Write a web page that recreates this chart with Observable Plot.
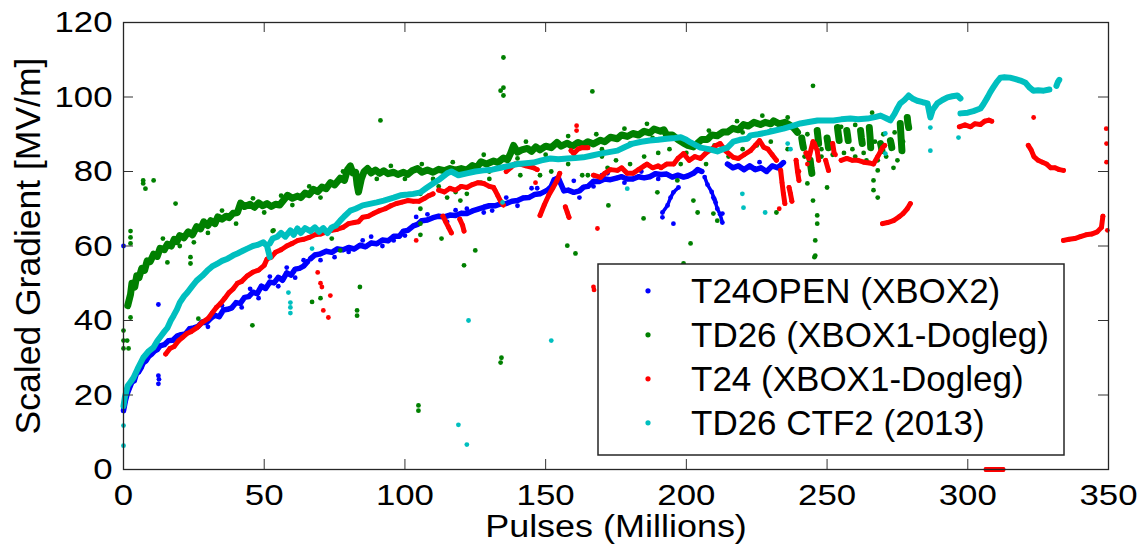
<!DOCTYPE html>
<html>
<head>
<meta charset="utf-8">
<script src="https://cdn.jsdelivr.net/npm/d3@7"></script>
<script src="https://cdn.jsdelivr.net/npm/@observablehq/plot@0.6"></script>
<style>
  html, body { margin: 0; padding: 0; background: #fff; }
  #chart { width: 1140px; height: 556px; }
</style>
</head>
<body>
<div id="chart"></div>
<script>
// Axis ticks and labels
const xTicks = [0, 50, 100, 150, 200, 250, 300, 350];
const yTicks = [0, 20, 40, 60, 80, 100, 120];
const xLabel = "Pulses (Millions)";
const yLabel = "Scaled Gradient [MV/m]";

// Series names and colours (legend order = draw order)
const seriesNames = ["T24OPEN (XBOX2)", "TD26 (XBOX1-Dogleg)", "T24 (XBOX1-Dogleg)", "TD26 CTF2 (2013)"];
const seriesColors = ["#0000ff", "#008000", "#ff0000", "#00bfbf"];

// T24OPEN (XBOX2): conditioning history, [pulses (M), gradient (MV/m)] per run
const t24openRuns = [
  [[0,15.8],[0.7,18.5],[1.4,20.5],[2.2,22],[3,23.5],[3.8,23.8],[4.6,25.8],[5.4,26.2],[6.2,27.2],[7,28.6],[8,29.2],[9,30.4],[10,31],[11,31.8],[12,32.2],[13,33.2],[14.5,33.5],[16,34.6],[17.5,34.7],[19,35.8],[20.5,36.2],[22,36.4],[23.5,37.8],[25,38],[26.5,38.4],[28,39.6],[29.5,39.4],[31,40.6],[32.5,41.4],[34,41],[35.5,42.8],[37,43],[38.5,43.4],[40,44.8],[41.5,44.6],[43,46.2],[44.5,46.4],[46,47.6],[47.5,47.2],[49,49.2],[50.5,48.6],[52,50.3],[53.5,50.1],[55,51.6],[56.5,50.8],[58,52.8],[59.5,52.2],[61,53.8],[62.5,54],[64,54.6],[65.4,55.8]],
  [[66.5,56.6],[68,57.6],[70,57.9],[72,58.6],[74,58.3],[76,59.2],[78,59],[80,59.6],[82,59.2],[84,60.2],[86,59.8],[88,60.8],[90,60.6],[92,61.6],[94,61.4],[96,62.6],[98,62.6],[99.5,64],[101,64.2],[103,65.4],[104.5,65.8],[106,66.8],[108,67],[110,67.6],[112,68],[114,67.8],[116,68.3],[118,68.2],[120,68.8],[122,68.7],[124,69.4],[126,69.9],[128,70.4],[130,70.8],[132,70.8],[134,71.3],[136,71.4],[138,72],[140,72.2],[142,72.9],[144,73],[146,73.8],[148,74],[150.6,75],[152,76],[153,77.8],[154.5,78.3],[155.5,76.5],[156.5,74.8],[158,75],[160,74.4],[162,74.8],[163.5,75.8],[165,76],[167,77.4],[169,77.3],[171,78],[173,77.8],[175.5,78.3],[177,78.6],[179,78],[181,78],[183,78.6],[185,78.3],[187,78.6],[189,79.4],[191,79.2],[193,79.3],[195,78.5],[197,79],[199,78.5],[200.5,78.8],[202.5,79.5],[204,80.5],[205.5,80]],
  [[214.6,82],[216.5,81],[218.5,81.5],[220.5,80.5],[222.5,81.5],[224.5,80.5],[226.5,81],[228.5,80],[230.5,81.5],[232.5,81],[234.5,82.4]]
];
const t24openStreaks = [
  [[191.5,69],[193.3,70.9],[194.4,73],[195.4,74.4],[197.2,75.7]],
  [[206.5,78.5],[207.5,76.5],[209,74.5],[210,72.5],[211,70],[212,68.5],[212.8,66.3]]
];
const t24openStray = [[0,60],[12.4,44.3],[12.4,23],[12.6,24.2],[12.4,25.2],[195.4,66],[191.5,67.7],[212.8,68.7],[209.6,73],[210.4,71.7],[226,82.5],[172,79.5],[160,77.5],[30,38.3],[35,44],[42,43.5],[45,48.5],[48,46],[52,51.8],[55,49.2],[58,54.2],[61,51.5],[64,56.2],[70,56.2],[80,58.4],[88,62.5],[96,61.5],[104,67.8],[118,69.6],[131,69.5],[145,75.5],[167,76],
  [75,57],[85,61.5],[92,60],[100,62.8],[108,68.5],[115,66.5],[122,70],[128,69],[136,73],[140,70.8],[147,75.5],[162,73],[170,79],[178,77],[184,80],[190,78]];

// TD26 (XBOX1-Dogleg)
const td26Runs = [
  [[1.5,44],[2.5,47],[3,50],[4,49],[4.7,52],[5.5,51.5],[6.5,54],[7.5,53.5],[8.4,56],[9.5,55.8],[10.7,57.8],[12,57.2],[13,59.4],[14.5,59],[15.6,60.5],[17,60],[18,61.8],[19,61.2],[20,62.8],[21.5,62.2],[23,63.8],[24.5,63],[26,65.2],[27.4,64.6],[28.5,66.5],[30,65.5],[31,66.8],[32.5,66],[33.5,67.8],[35,67.2],[36.5,68],[37.5,67.6],[39,68.8],[40.5,69],[41.6,71.5],[43,70.6],[45,71.2],[46.5,70.4],[48,71.6],[49.5,70.8],[51,71.4],[52.5,70.6],[54,71.2],[55.5,71],[57,72.4],[58.3,73.6],[60,72.8],[61.8,73.4],[63,73],[64.5,74.2],[66,73.8],[67.5,75.2],[69,74.6],[70.5,75.8],[72,75.4],[73.5,77],[75,76.4],[77,78.2],[78.5,77.6],[79.6,80.5],[80.6,81.5],[81.5,79.6],[82.5,79.8],[83,76.5],[83.5,74.5],[84.5,78],[85.5,80],[86.7,80.8],[88,79.6],[89.5,80.4],[91,79.5],[92.5,80.2],[94,79.4],[96,79.8],[97.5,79.2],[99.5,79.8],[101,79.2],[102.5,80.2],[104.5,80.8],[106,79.8],[108,80.4],[110,79.8],[112,80.6],[114,80.2],[116,80.8],[118,80.4],[120,80.8],[122,80.4],[124,81.6],[125.5,81],[127,82.6],[129,82],[131.5,82.8],[133,82.4],[135,83.6],[136.5,83.2],[137.5,84.8],[138.6,87],[140,85.2],[141.5,85.8],[143.5,86.2],[145,85.4],[146.5,86.6],[148,85.8],[150,86.8],[152,86.4],[154,87.8],[155.5,86.8],[157.7,87.6],[159.5,86.8],[161.5,87.8],[163.4,87.2],[165,88],[167,87.4],[169.5,88.4],[171,88],[173,89.2],[175.5,88.8],[177,89.8],[179,89.4],[181,90.2],[183,89.8],[185,90.8],[187,90.4],[188.5,91.4],[190.8,90.8],[192,91.2],[193,89.8],[195,89.8],[197,88.6],[199,87.6],[200.5,87],[202.5,86.6],[204,87.6],[205.5,88.6],[207.5,88.6],[209,89.8],[211,89.6],[213,90.6],[214.6,90.6],[216.5,91.6],[218.5,91.2],[220.3,92.6],[222,92.2],[224,93.2],[226.3,92.6],[228,93.2],[230,92.8],[231,93.6],[233,92.8],[235,93.2],[236.5,92.6],[238,91.8],[239.5,90.5]],
  [[241,89],[241.3,87.5],[241.6,86.4]],
  [[244,83],[244.3,81],[244.6,79.5]],
  [[246.5,91],[246.8,89],[247,87.5]],
  [[250,89],[250.3,87.5],[250.5,86.4]],
  [[253.7,91.8],[254,90],[254.3,88.3]],
  [[257,91],[257.3,89.5],[257.5,88.3]],
  [[261.9,91],[262.2,89],[262.5,87.5]],
  [[265,91.8],[265.3,89],[265.5,86.4]],
  [[269,87.5],[269.3,86.5],[269.5,85.6]],
  [[272.5,88.3],[272.8,87.3],[273,86.4]],
  [[276,92.9],[276.3,89],[276.6,85.6]],
  [[278.5,94.5],[278.7,93],[279,91.8]]
];
const td26Streaks = [];
const td26Stray = [[0,37.3],[0,34.6],[0,32.5],[1.3,34.6],[1.8,32.5],[2.5,40.8],[2.5,64],[2.5,62.3],[2.5,60.7],[7,77.6],[7,76.8],[10.7,77.6],[7.8,75.4],[18.5,71.4],[15.6,55.6],[23.8,55.3],[23.8,57],[26.6,40.5],[45.8,38.7],[53,64],[53.3,64.2],[67,45],[70,46],[74,62],[77,58.8],[83,41.3],[83,42.7],[84,49],[91.3,93.7],[104.8,17.2],[104.8,15.8],[105.5,74],[105.5,70],[105.5,66],[105.5,63],[113,62],[119.7,72.2],[121,54.8],[122,74],[125,58.8],[134,101.7],[135,100.4],[135,102.5],[135,110.6],[134,28.7],[134.3,30],[157.7,60.1],[160.6,58],[165,79],[166.6,101.5],[172.3,70.9],[172,81],[184.8,67.4],[189.7,74.4],[196.8,77.6],[199,55.3],[201.5,60.7],[202.5,72.2],[204,69],[209.6,68.7],[211,66.8],[232,69],[243,76.8],[245,103],[245,72.2],[245.5,57],[245.8,61.5],[245.8,57.4],[246.5,66],[246.5,68.2],[250,75.7],[266,95.8],[266.5,75],[266.5,77.6],[268,73],[268,80.3],[268,83],[273.6,81],[112,76],[115,73],[118,74.5],[127,77],[130,78],[141,79],[148,79],[152,80],[158,82],[163,79],[170,84],[175,83],[180,82],[185,84],[190,85],[194,86],[198,82],[207,82],[215,84],[220,86],[225,87],[230,88],[236,86],[248,84],[256,85],[260,84],[264,83],[271,84],[275,83],
  [20,60],[25,61],[30,63.5],[40,66],[50,69],[60,71],[70,73],[90,78],[100,78],[110,78],[130,80],[140,83.5],[150,84.5],[160,85],[170,86],[180,87.5],[188,89],[200,85],[210,87],[220,90.5],[230,91],[14,62],[35,69.5],[46,72.8],[56,73.5],[66,76],[78,80],[95,81.5],[106,82],[117,82.5],[128,84.5],[143,88],[158,89.5],[168,90],[178,91.5],[186,92.8],[208,91],[218,93.5],[227,95],[236,94.5],
  [242,84],[248,86],[252,84.5],[259,86],[263,85],[267,88],[270,90],[274,90.5],[277,88],[243,90],[255,92],[260,92.5]];

// T24 (XBOX1-Dogleg)
const t24Runs = [
  [[15,31],[16.5,32.5],[18,33],[19.5,34.5],[21,35.5],[22.5,36.5],[24,37],[26,38],[28,39.5],[30,40.5],[31.5,42],[33,43.5],[34.5,44.6],[36,46],[37.5,47.5],[39,48.5],[40.5,50],[42,50.5],[44,52],[46,53],[48,53.5],[50,54.8],[51,56.5],[52.5,57],[54,58.3],[56,59],[58,60],[60,60.7],[62,61.5],[64,61.8],[66,62.3],[68,63],[70,63.2],[72,63.8],[74,64.2],[76,64.5],[78,65],[80,66],[82,66.3],[83.5,66.5],[85,67.7],[87,68],[89,68.8],[91,69.5],[93,70],[95,70.8],[97,71.4],[99,71.8],[101,72.2],[103,72],[105,72],[107,72.8],[108.5,73.5],[110,74]],
  [[113.5,68],[114.5,66.5],[115.5,65],[116.5,63.5]],
  [[119.5,67.2],[120.5,65.5],[121,64]],
  [[112,75],[114,74.5],[116,75.5],[118,75],[120,76],[122,75.7],[124,76.5],[126,77],[128,76.8],[130,76],[131.5,75.7],[132,75],[133,73.5],[134,72],[135,71]],
  [[136,80],[137.5,81],[139,82],[141,82],[143,81.5],[145.7,81],[147,80.5]],
  [[148,68.2],[149.5,71],[151,73.5],[152.5,75.5],[154,77.5],[155,79.5]],
  [[157,70.5],[157.7,69],[158.3,67.7]],
  [[159,85.6],[160,84.8],[161.5,86],[163,86.4],[165,86.4]],
  [[167,79],[169.5,78.4],[171,79.5],[173,80.5],[175.5,80.3],[177,81],[179,79.5],[181,79.5],[183,80.5],[185,81.5],[186,82],[188,81],[190,81.5],[191,81],[193,82],[195.5,82],[197,83.5],[199,84.8],[201,83],[203,84],[205,83.5],[207,85],[209,86],[210.5,87],[212,87.5],[214,85.5],[216.7,83.8],[218.5,83.5],[220.5,84.5],[222.8,85.6],[224.5,87],[226,88.3],[227.5,86.5],[229,86],[230.5,84.5],[232,83]],
  [[233.5,80.3],[234,77],[234.5,74],[235,71.4]],
  [[236.5,75.7],[237,74],[237.5,72]],
  [[239,83],[239.5,80],[240,77.6]],
  [[242.5,85],[243.5,83.5],[245,88],[245.5,87.5],[246.5,85.6],[247,83]],
  [[249.5,83],[250.5,80.3]],
  [[252,87.5],[252.5,85]],
  [[255,83],[257,83.5],[259,83],[261,83],[263,82.5],[265,82.3],[266.5,82],[268,84],[269.7,86.4],[270.5,87]],
  [[269.7,66],[271.5,66.3],[273.6,66.8],[275.5,67.8],[277,68.7],[278.5,70],[279.6,71.4]],
  [[297,92],[299,92.5],[301,92],[302.5,92.8],[304.5,92.6],[306,93.5],[307.5,93.8],[308.5,93.5]],
  [[306.5,0],[308,0],[309.5,0],[311,0],[312.5,0]],
  [[321.5,87],[322.5,85.8],[323.5,84],[325,83],[326.5,82.5],[328,82],[329.5,81],[331,81],[332.5,80.5],[334,80.3]],
  [[334,61.5],[336,61.8],[338,62],[340,62.5],[342,63],[344,63.2],[346,63.8],[347.5,65],[348,68]]
];
const t24Streaks = [];
const t24Stray = [[69,52.9],[70,50],[70.5,49],[73.5,46.7],[71,42.7],[72.8,40.8],[104,61.5],[146.4,77],[161,92.3],[161,91],[168.4,64.7],[167,49],[167.2,48.2],[136.3,81.5],[323.4,94.5],[349.2,91.5],[349.3,87.5],[349.3,82.5],[349.6,64.2],[240,80],[243,82],[253,84.5],[233,70]];

// TD26 CTF2 (2013)
const ctf2Runs = [
  [[0,17],[0.5,19.5],[1,21],[1.5,22.5],[2.5,23.5],[3.6,24.7],[5,27],[7,30],[9,31.8],[10.7,32.8],[12,34.5],[13,35.5],[14.5,37],[15.6,38],[16.8,40],[17.8,41.3],[19,43],[20,44.8],[21.5,46.5],[22.7,47.5],[24.5,49.3],[26,50.7],[28,52],[29.8,53.4],[31.5,54.5],[33.4,55.3],[35,56],[37,56.6],[39,57.5],[40.5,58],[42.6,58.8],[44,59.3],[46,60],[47.6,60.3],[49.7,61],[51,60],[52,57]],
  [[52,60.7],[53,62],[54.7,62.5],[56,63.5],[57.5,62.5],[59.3,64.2],[60.5,63],[61.8,64.7],[63,63.5],[64.5,64.8],[66.4,64],[68,65],[69.5,63.8],[71,64.8],[72.5,63.5],[74,65],[75.5,65.5],[77,66.8],[78.5,68],[80.6,69.5],[82.5,70],[85,70.9],[87.5,71.3],[90,71.7],[92.5,72.2],[96,73],[98.4,73.6],[101,73.8],[103,74],[105.5,74.4],[107.5,75.5],[110,76.8],[112.5,78],[115,79.5],[116.5,80],[119,79],[122,79.5],[125,80],[128,80.3],[131,80.5],[134,81],[137,81.5],[140,82],[143,82.2],[145.7,82.4],[148.5,83],[151.7,83.5],[154.5,83.3],[157.7,83.5],[160.5,83.6],[163.4,83.8],[166.5,84.3],[169.5,84.8],[172.5,85.2],[175.5,85.6],[178,86.5],[181,87.5],[184,88],[187,88.3],[190,88.5],[193,88.8],[196,89],[198,89.2],[200,88.5],[201.5,87.8],[203.5,87],[205,86.4],[208,86],[211,85.4],[213,86],[214.6,86.4],[216.7,88],[219,88.5],[221.7,88.8],[222.8,89.7],[225.5,90],[228.8,90.5],[231.5,91],[234.5,91.5],[237.5,92.2],[240.5,92.9],[243.5,93.3],[246.6,93.7],[249.5,93.7],[252.3,93.7],[255,94],[258.3,94.2],[261,94],[264.4,94.2],[267,94.6],[269,95],[271,94.3],[272.5,93.7],[274,95.5],[275,97],[276,98.3],[277.5,99.2],[279,100.4],[280.5,99.5],[282,99],[284,98.6],[285.7,98.3],[286.3,96],[286.7,94.5],[287.5,96.5],[289.2,98.3],[291,99.2],[292.8,99.9],[294.5,100.2],[296.3,100.4],[297.4,99.6]],
  [[297.4,95.6],[300,95.8],[302,96.2],[304.5,96.9],[305.5,98],[307,99.9],[308,101.3],[309,102.5],[310.3,104],[311.6,105.2],[313,105.3],[315,105.2],[317,104.8],[318.7,104.4],[320.5,103.8],[322,102.5],[323.3,101.7],[325,101.8],[327,101.7],[329,102]],
  [[331.5,103],[332,104],[332.5,104.6]]
];
const ctf2Streaks = [];
const ctf2Stray = [[0,11.8],[0,6.4],[58.6,47.5],[59.3,44.8],[59.3,43.5],[59.3,42],[67,59.3],[122.6,40],[152,34.6],[119,12],[122,6.7],[134.7,71.7],[179,75.4],[219.9,74],[220.3,70.3],[228,69],[236,87.5],[237,86],[270.7,90.2],[270.7,84.8],[286.7,91.8],[286.7,85.6],[296.7,89.1]];

// Combine runs into a tidy table (one row per point, with run id and kind)
function tidy(runs, streaks, stray, series) {
  const main = runs.flatMap((run, i) => run.map(([x, y]) => ({x, y, series, run: `${series}-r${i}`, kind: "run"})));
  const thin = streaks.flatMap((run, i) => run.map(([x, y]) => ({x, y, series, run: `${series}-s${i}`, kind: "streak"})));
  const lone = stray.map(([x, y]) => ({x, y, series, run: null, kind: "stray"}));
  return main.concat(thin, lone);
}
const tables = [
  tidy(t24openRuns, t24openStreaks, t24openStray, seriesNames[0]),
  tidy(td26Runs, td26Streaks, td26Stray, seriesNames[1]),
  tidy(t24Runs, t24Streaks, t24Stray, seriesNames[2]),
  tidy(ctf2Runs, ctf2Streaks, ctf2Stray, seriesNames[3])
];
const lineWidths = [5.5, 7, 5, 6];

const W = 1140, H = 556;
const mL = 123, mR = 32, mT = 22, mB = 87;
const innerW = W - mL - mR, innerH = H - mT - mB;
const tickLen = 10;
const font = "'Liberation Sans', Arial, Helvetica, sans-serif";

const seriesMarks = tables.flatMap((rows, i) => [
  Plot.line(rows.filter(d => d.kind === "run"), {x: "x", y: "y", z: "run", stroke: seriesColors[i], strokeWidth: lineWidths[i], strokeLinecap: "round", strokeLinejoin: "round"}),
  Plot.line(rows.filter(d => d.kind === "streak"), {x: "x", y: "y", z: "run", stroke: seriesColors[i], strokeWidth: 3.5, strokeLinecap: "round", strokeLinejoin: "round"}),
  Plot.dot(rows, {x: "x", y: "y", r: 2.4, fill: seriesColors[i], stroke: "none"})
]);

const svg = Plot.plot({
  width: W, height: H,
  marginLeft: mL, marginRight: mR, marginTop: mT, marginBottom: mB,
  style: {fontFamily: font, fontSize: "30px", color: "#000", background: "#fff", overflow: "visible"},
  x: {domain: [0, 350]},
  y: {domain: [0, 120]},
  marks: [
    ...seriesMarks,
    // inward ticks on all four sides
    Plot.tickX(xTicks, {x: d => d, insetTop: innerH - tickLen, stroke: "#333", strokeWidth: 1}),
    Plot.tickX(xTicks, {x: d => d, insetBottom: innerH - tickLen, stroke: "#333", strokeWidth: 1}),
    Plot.tickY(yTicks, {y: d => d, insetRight: innerW - tickLen, stroke: "#333", strokeWidth: 1}),
    Plot.tickY(yTicks, {y: d => d, insetLeft: innerW - tickLen, stroke: "#333", strokeWidth: 1}),
    Plot.frame({stroke: "#262626", strokeWidth: 1.3}),
    Plot.axisX(xTicks, {anchor: "bottom", tickSize: 0, tickPadding: 14, label: null, fill: "#000"}),
    Plot.axisY(yTicks, {anchor: "left", tickSize: 0, tickPadding: 11, label: null, fill: "#000"}),
    Plot.text([xLabel], {text: d => d, frameAnchor: "bottom", textAnchor: "middle", lineAnchor: "top", dy: 45, fontSize: 31, fill: "#000"}),
    Plot.text([yLabel], {text: d => d, frameAnchor: "left", textAnchor: "middle", rotate: -90, lineAnchor: "middle", dx: -94.5, fontSize: 35.5, fill: "#000"})
  ]
});

// Axis text is set slightly wide, as in the printed figure
d3.select(svg)
  .selectAll("text")
  .filter(function () {
    const g = this.parentNode && this.parentNode.getAttribute("aria-label");
    return g === "x-axis tick label" || g === "y-axis tick label" || this.textContent === xLabel;
  })
  .attr("transform", function () { return (this.getAttribute("transform") || "") + " scale(1.16,1)"; });

// Legend box inside the plot area
const lg = d3.select(svg).append("g").attr("aria-label", "legend")
  .attr("font-family", font).attr("font-size", 35).attr("text-anchor", "start");
lg.append("rect").attr("x", 598).attr("y", 264).attr("width", 466).attr("height", 191)
  .attr("fill", "#fff").attr("stroke", "#262626").attr("stroke-width", 1.5);
seriesNames.forEach((name, i) => {
  const base = 303.3 + i * 44;
  lg.append("circle").attr("cx", 648).attr("cy", base - 12.5).attr("r", 2.6).attr("fill", seriesColors[i]);
  lg.append("text").attr("x", 691).attr("y", base).attr("fill", "#000").text(name);
});

document.getElementById("chart").appendChild(svg);
</script>
</body>
</html>
